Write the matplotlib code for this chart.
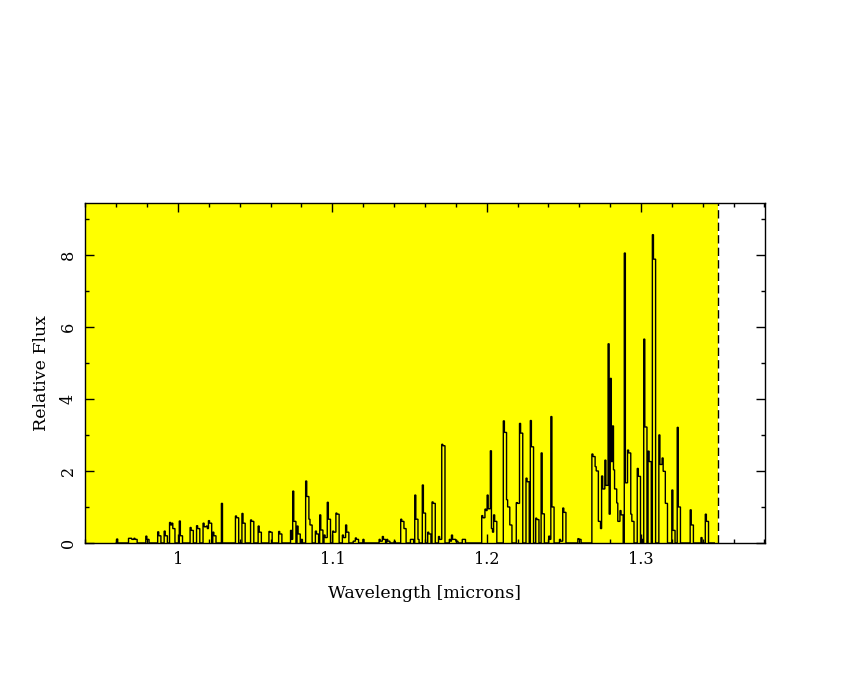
#!/usr/bin/env python3
import numpy as np
import matplotlib
matplotlib.use('Agg')
import matplotlib.pyplot as plt
from matplotlib.ticker import MultipleLocator, FixedLocator

# emission lines: wavelength, spike height, shoulder height
line_wl = [0.9600, 0.9677, 0.9695, 0.9712, 0.9790, 0.9865, 0.9910, 0.9948, 0.9960,
           1.0010, 1.0078, 1.0120, 1.0165, 1.0180, 1.0200, 1.0222, 1.0283, 1.0370,
           1.0417, 1.0470, 1.0520, 1.0590, 1.0652, 1.0726, 1.0745, 1.0768, 1.0800,
           1.0828, 1.0845, 1.0890, 1.0917, 1.0945, 1.0965, 1.1000, 1.1025, 1.1065,
           1.1085, 1.1135, 1.1150, 1.1200, 1.1305, 1.1327, 1.1350, 1.1400, 1.1440,
           1.1455, 1.1505, 1.1535, 1.1555, 1.1585, 1.1615, 1.1645, 1.1690, 1.1712,
           1.1760, 1.1775, 1.1790, 1.1845, 1.1968, 1.1990, 1.2002, 1.2015, 1.2027,
           1.2045, 1.2110, 1.2132, 1.2145, 1.2190, 1.2215, 1.2255, 1.2280, 1.2320,
           1.2350, 1.2400, 1.2415, 1.2470, 1.2495, 1.2590, 1.2680, 1.2700, 1.2715,
           1.2730, 1.2745, 1.2765, 1.2785, 1.2802, 1.2812, 1.2823, 1.2843, 1.2865,
           1.2895, 1.2915, 1.2935, 1.2975, 1.3005, 1.3015, 1.3045, 1.3075, 1.3115,
           1.3135, 1.3150, 1.3200, 1.3235, 1.3320, 1.3390, 1.3415]
line_peak = [0.11, 0.13, 0.13, 0.13, 0.19, 0.31, 0.33, 0.57, 0.55,
             0.61, 0.43, 0.48, 0.55, 0.47, 0.62, 0.30, 1.10, 0.75,
             0.82, 0.64, 0.47, 0.32, 0.32, 0.35, 1.44, 0.47, 0.10,
             1.72, 0.66, 0.33, 0.78, 0.22, 1.13, 0.33, 0.83, 0.22,
             0.50, 0.05, 0.14, 0.10, 0.10, 0.18, 0.10, 0.05, 0.66,
             0.58, 0.10, 1.33, 0.10, 1.61, 0.30, 1.14, 0.18, 2.74,
             0.10, 0.22, 0.10, 0.10, 0.76, 0.94, 1.33, 0.75, 2.56,
             0.78, 3.39, 1.20, 0.60, 1.12, 3.32, 1.80, 3.40, 0.69,
             2.50, 0.19, 3.51, 0.10, 0.97, 0.12, 2.47, 2.12, 1.20,
             0.55, 1.86, 2.30, 5.53, 4.57, 3.25, 2.03, 1.11, 0.90,
             8.05, 2.58, 0.80, 2.07, 0.10, 5.66, 2.55, 8.56, 3.00,
             2.36, 1.92, 1.47, 3.21, 0.92, 0.15, 0.80]
line_shoulder = [0.0, 0.13, 0.10, 0.10, 0.10, 0.20, 0.20, 0.50, 0.40,
                 0.20, 0.35, 0.40, 0.45, 0.40, 0.55, 0.20, 0.0, 0.70,
                 0.55, 0.60, 0.30, 0.30, 0.25, 0.10, 0.60, 0.25, 0.0,
                 1.29, 0.50, 0.25, 0.36, 0.15, 0.66, 0.30, 0.80, 0.15,
                 0.30, 0.05, 0.10, 0.0, 0.05, 0.10, 0.05, 0.0, 0.60,
                 0.40, 0.10, 0.66, 0.0, 0.83, 0.25, 1.10, 0.10, 2.70,
                 0.05, 0.10, 0.05, 0.10, 0.70, 0.90, 0.95, 0.40, 0.30,
                 0.60, 3.07, 1.00, 0.50, 1.10, 3.05, 1.70, 2.67, 0.65,
                 0.81, 0.10, 1.00, 0.05, 0.85, 0.10, 2.40, 2.00, 0.60,
                 0.40, 1.50, 1.60, 0.80, 2.26, 1.00, 1.50, 0.60, 0.78,
                 1.67, 2.50, 0.60, 1.85, 0.0, 3.22, 2.26, 7.88, 2.18,
                 1.99, 1.10, 0.35, 1.00, 0.50, 0.0, 0.60]

wl_start = 0.9595
wl_end = 1.3480
bin_width = 0.0007
cutoff = 1.35


def build_spectrum():
    edges = np.arange(wl_start, wl_end + bin_width, bin_width)
    flux = np.zeros(len(edges) - 1)
    for wl, pk, sh in zip(line_wl, line_peak, line_shoulder):
        i = int(round((wl - wl_start) / bin_width))
        flux[i] = max(flux[i], pk)
        for j in (i + 1, i + 2):
            if j < len(flux):
                flux[j] = max(flux[j], sh)
    return edges, flux


def plot(edges, flux):
    plt.rcParams['font.family'] = ['DejaVu Serif']
    fig = plt.figure(figsize=(8.5, 6.8), dpi=100)
    ax = fig.add_axes([0.1, 0.2015, 0.8, 0.5])
    ax.set_xlim(0.9397, 1.3804)
    ax.set_ylim(0, 9.44)

    ax.axvspan(0.9397, cutoff, color='yellow', zorder=0, lw=0)
    ax.axvline(cutoff, color='black', ls=(0, (6, 3)), lw=1.0, zorder=3)
    ax.stairs(flux, edges, color='black', lw=1.0, zorder=2)

    ax.xaxis.set_major_locator(FixedLocator([1.0, 1.1, 1.2, 1.3]))
    ax.set_xticklabels(['1', '1.1', '1.2', '1.3'])
    ax.xaxis.set_minor_locator(MultipleLocator(0.02))
    ax.yaxis.set_major_locator(MultipleLocator(2))
    ax.yaxis.set_minor_locator(MultipleLocator(1))
    ax.tick_params(which='both', direction='in', top=True, right=True,
                   width=1.0, labelsize=11.5)
    ax.tick_params(which='major', length=6.5)
    ax.tick_params(which='minor', length=3.2)
    ax.tick_params(axis='x', pad=6)
    ax.tick_params(axis='y', pad=6)
    for lab in ax.get_yticklabels():
        lab.set_rotation(90)
        lab.set_va('center')
    for sp in ax.spines.values():
        sp.set_linewidth(1.0)

    ax.set_xlabel('Wavelength [microns]', fontsize=12.5, labelpad=12)
    ax.set_ylabel('Relative Flux', fontsize=12.5, labelpad=7)
    fig.savefig('out.png', dpi=100)


def main():
    edges, flux = build_spectrum()
    plot(edges, flux)


if __name__ == '__main__':
    main()
